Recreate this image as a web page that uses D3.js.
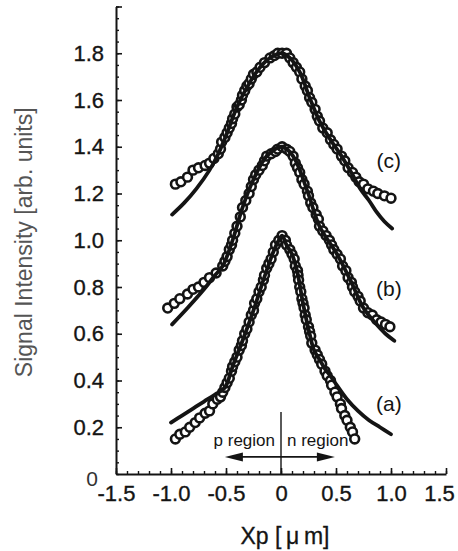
<!DOCTYPE html>
<html>
<head>
<meta charset="utf-8">
<script src="https://cdn.jsdelivr.net/npm/d3@7"></script>
<style>
  body { margin: 0; background: #fff; }
  svg { display: block; }
  text { font-family: "Liberation Sans", Arial, Helvetica, sans-serif; }
</style>
</head>
<body>
<svg id="chart"></svg>
<script>
// axis ticks
const xTicks = [-1.5, -1.0, -0.5, 0, 0.5, 1.0, 1.5];
const xTickLabels = ["-1.5", "-1.0", "-0.5", "0", "0.5", "1.0", "1.5"];
const yTicks = [0.2, 0.4, 0.6, 0.8, 1.0, 1.2, 1.4, 1.6, 1.8, 2.0];
const yTickLabels = ["0.2", "0.4", "0.6", "0.8", "1.0", "1.2", "1.4", "1.6", "1.8", ""];

// curve labels [name, x, y]
const curveLabels = [["(a)", 0.98, 0.27], ["(b)", 0.98, 0.76], ["(c)", 0.98, 1.31]];

// measured profiles (open circles), [Xp, intensity]
const measuredA = [
  [-0.96, 0.15], [-0.92, 0.17], [-0.87, 0.18], [-0.83, 0.20], [-0.78, 0.22], [-0.74, 0.24],
  [-0.69, 0.26], [-0.65, 0.27], [-0.62, 0.30], [-0.58, 0.32], [-0.55, 0.33], [-0.53, 0.35],
  [-0.51, 0.37], [-0.49, 0.39], [-0.47, 0.41], [-0.45, 0.44], [-0.44, 0.46], [-0.42, 0.48],
  [-0.40, 0.50], [-0.38, 0.53], [-0.36, 0.55], [-0.35, 0.57], [-0.33, 0.60], [-0.31, 0.62],
  [-0.29, 0.65], [-0.27, 0.68], [-0.25, 0.70], [-0.24, 0.73], [-0.22, 0.75], [-0.20, 0.78],
  [-0.18, 0.80], [-0.16, 0.83], [-0.15, 0.85], [-0.13, 0.88], [-0.11, 0.90], [-0.09, 0.92],
  [-0.07, 0.95], [-0.05, 0.98], [-0.02, 1.00], [0.01, 1.02], [0.04, 1.00], [0.05, 0.98],
  [0.08, 0.96], [0.10, 0.94], [0.12, 0.92], [0.13, 0.89], [0.15, 0.87], [0.155, 0.85],
  [0.16, 0.83], [0.17, 0.80], [0.18, 0.78], [0.19, 0.75], [0.20, 0.73], [0.21, 0.71],
  [0.22, 0.68], [0.23, 0.66], [0.25, 0.63], [0.26, 0.61], [0.27, 0.59], [0.28, 0.56],
  [0.31, 0.53], [0.33, 0.51], [0.35, 0.49], [0.37, 0.47], [0.40, 0.44], [0.42, 0.42],
  [0.45, 0.40], [0.46, 0.38], [0.49, 0.35], [0.51, 0.33], [0.54, 0.30], [0.55, 0.28],
  [0.58, 0.25], [0.60, 0.23], [0.63, 0.20], [0.65, 0.18], [0.67, 0.15]
];
const measuredB = [
  [-1.03, 0.71], [-0.97, 0.73], [-0.92, 0.75], [-0.85, 0.77], [-0.80, 0.79], [-0.75, 0.80],
  [-0.70, 0.82], [-0.65, 0.84], [-0.59, 0.86], [-0.53, 0.89], [-0.51, 0.91], [-0.49, 0.93],
  [-0.47, 0.96], [-0.45, 0.98], [-0.44, 1.00], [-0.42, 1.03], [-0.40, 1.06], [-0.37, 1.10],
  [-0.35, 1.14], [-0.32, 1.17], [-0.29, 1.20], [-0.27, 1.23], [-0.25, 1.26], [-0.23, 1.28],
  [-0.20, 1.30], [-0.17, 1.32], [-0.15, 1.34], [-0.13, 1.36], [-0.09, 1.37], [-0.05, 1.38],
  [-0.03, 1.39], [0.01, 1.40], [0.05, 1.39], [0.08, 1.38], [0.11, 1.36], [0.13, 1.33],
  [0.15, 1.31], [0.17, 1.29], [0.19, 1.26], [0.21, 1.24], [0.24, 1.21], [0.25, 1.19],
  [0.27, 1.16], [0.29, 1.14], [0.32, 1.11], [0.34, 1.09], [0.35, 1.06], [0.38, 1.04],
  [0.41, 1.02], [0.44, 1.00], [0.46, 0.98], [0.48, 0.96], [0.51, 0.94], [0.54, 0.92],
  [0.56, 0.89], [0.59, 0.87], [0.61, 0.84], [0.64, 0.82], [0.65, 0.80], [0.67, 0.78],
  [0.70, 0.76], [0.72, 0.74], [0.75, 0.71], [0.79, 0.69], [0.83, 0.68], [0.87, 0.66],
  [0.91, 0.65], [0.95, 0.64], [0.99, 0.63]
];
const measuredC = [
  [-0.96, 1.24], [-0.91, 1.25], [-0.85, 1.27], [-0.80, 1.30], [-0.75, 1.31], [-0.69, 1.32],
  [-0.65, 1.33], [-0.61, 1.35], [-0.57, 1.37], [-0.55, 1.39], [-0.54, 1.42], [-0.51, 1.44],
  [-0.49, 1.46], [-0.47, 1.48], [-0.45, 1.50], [-0.44, 1.52], [-0.42, 1.54], [-0.40, 1.57],
  [-0.38, 1.58], [-0.36, 1.60], [-0.35, 1.62], [-0.33, 1.64], [-0.31, 1.66], [-0.29, 1.67],
  [-0.27, 1.69], [-0.25, 1.71], [-0.22, 1.72], [-0.19, 1.74], [-0.15, 1.76], [-0.10, 1.78],
  [-0.06, 1.79], [-0.03, 1.80], [0.01, 1.80], [0.05, 1.80], [0.08, 1.78], [0.11, 1.76],
  [0.14, 1.74], [0.17, 1.72], [0.19, 1.69], [0.22, 1.66], [0.24, 1.64], [0.26, 1.61],
  [0.28, 1.59], [0.31, 1.56], [0.33, 1.53], [0.35, 1.51], [0.38, 1.48], [0.42, 1.46],
  [0.45, 1.43], [0.48, 1.41], [0.51, 1.39], [0.55, 1.36], [0.58, 1.34], [0.61, 1.31],
  [0.65, 1.29], [0.68, 1.27], [0.71, 1.25], [0.75, 1.24], [0.79, 1.22], [0.84, 1.21],
  [0.88, 1.20], [0.94, 1.19], [1.00, 1.18]
];

// calculated profiles (solid lines)
const fitA = [
  [-1.00, 0.22], [-0.90, 0.25], [-0.80, 0.28], [-0.70, 0.31], [-0.60, 0.34], [-0.51, 0.37],
  [-0.44, 0.46], [-0.35, 0.57], [-0.25, 0.70], [-0.16, 0.83], [-0.07, 0.95], [-0.02, 1.00],
  [0.01, 1.02], [0.05, 0.98], [0.10, 0.94], [0.15, 0.86], [0.20, 0.73], [0.26, 0.60],
  [0.30, 0.53], [0.35, 0.49], [0.40, 0.45], [0.45, 0.42], [0.50, 0.385], [0.60, 0.32],
  [0.70, 0.27], [0.80, 0.23], [0.90, 0.20], [1.00, 0.17]
];
const fitB = [
  [-0.99, 0.64], [-0.85, 0.71], [-0.70, 0.79], [-0.60, 0.85], [-0.53, 0.89], [-0.44, 1.00],
  [-0.35, 1.14], [-0.25, 1.26], [-0.13, 1.36], [0.01, 1.40], [0.11, 1.36], [0.24, 1.21],
  [0.35, 1.06], [0.51, 0.94], [0.64, 0.82], [0.75, 0.71], [0.85, 0.65], [0.95, 0.60],
  [1.03, 0.57]
];
const fitC = [
  [-0.99, 1.11], [-0.88, 1.16], [-0.77, 1.22], [-0.65, 1.30], [-0.57, 1.37], [-0.49, 1.46],
  [-0.40, 1.57], [-0.29, 1.67], [-0.19, 1.74], [-0.10, 1.78], [0.01, 1.80], [0.08, 1.78],
  [0.17, 1.72], [0.26, 1.61], [0.35, 1.51], [0.45, 1.43], [0.55, 1.36], [0.65, 1.28],
  [0.72, 1.22], [0.80, 1.17], [0.87, 1.12], [0.94, 1.08], [1.01, 1.05]
];

const series = [
  { name: "(a)", measured: measuredA, fit: fitA },
  { name: "(b)", measured: measuredB, fit: fitB },
  { name: "(c)", measured: measuredC, fit: fitC }
];

const width = 458;
const height = 551;
const ink = "#141414";

const svg = d3.select("#chart")
    .attr("width", width)
    .attr("height", height);

svg.append("rect")
    .attr("width", width)
    .attr("height", height)
    .attr("fill", "#fff");

const x = d3.scaleLinear().domain([-1.5, 1.5]).range([116, 446]);
const y = d3.scaleLinear().domain([0, 2.0]).range([474, 6.5]);

// minor ticks first (no labels)
svg.append("g")
    .attr("transform", `translate(${x(-1.5)},0)`)
    .call(d3.axisLeft(y).tickValues(d3.range(0, 2.001, 0.05)).tickSize(-3).tickFormat("").tickSizeOuter(0))
    .call(g => g.select(".domain").remove())
    .call(g => g.selectAll("line").attr("stroke", ink).attr("stroke-width", 1.4));

svg.append("g")
    .attr("transform", `translate(0,${y(0)})`)
    .call(d3.axisBottom(x).tickValues(d3.range(-1.5, 1.501, 0.1)).tickSize(-3).tickFormat("").tickSizeOuter(0))
    .call(g => g.select(".domain").remove())
    .call(g => g.selectAll("line").attr("stroke", ink).attr("stroke-width", 1.4));

// major axes
const yAxis = svg.append("g")
    .attr("transform", `translate(${x(-1.5)},0)`)
    .call(d3.axisLeft(y)
        .tickValues(yTicks)
        .tickSize(-6)
        .tickSizeOuter(0)
        .tickPadding(12)
        .tickFormat((d, i) => yTickLabels[i]));

const xAxis = svg.append("g")
    .attr("transform", `translate(0,${y(0)})`)
    .call(d3.axisBottom(x)
        .tickValues(xTicks)
        .tickSize(-6)
        .tickSizeOuter(0)
        .tickPadding(11)
        .tickFormat((d, i) => xTickLabels[i]));

[yAxis, xAxis].forEach(g => {
    g.select(".domain").attr("stroke", ink).attr("stroke-width", 2);
    g.selectAll(".tick line").attr("stroke", ink).attr("stroke-width", 1.6);
    g.selectAll(".tick text")
        .attr("fill", ink)
        .attr("stroke", ink)
        .attr("stroke-width", 0.35)
        .style("font-size", "22px")
        .style("font-family", "'Liberation Sans', Arial, sans-serif");
});

// keep "1.5" inside the frame, as in the original
xAxis.selectAll(".tick text").filter(d => d === 1.5).attr("dx", -7);

// the lone "0" below the y axis
svg.append("text")
    .attr("x", x(-1.5) - 18)
    .attr("y", y(0) + 12)
    .attr("text-anchor", "end")
    .style("font-size", "21px")
    .attr("fill", "#333")
    .text("0");

// axis titles
svg.append("text")
    .attr("transform", `translate(32,${(y(0) + y(2.0)) / 2 + 2}) rotate(-90)`)
    .attr("text-anchor", "middle")
    .style("font-size", "23px")
    .attr("fill", "#555")
    .text("Signal Intensity [arb. units]");

svg.append("text")
    .attr("x", x(0) + 4)
    .attr("y", 544)
    .attr("text-anchor", "middle")
    .style("font-size", "23px")
    .attr("fill", ink)
    .attr("stroke", ink)
    .attr("stroke-width", 0.3)
    .text("Xp [\u2009\u03bc\u2009m]");

// p / n region marker
const markers = svg.append("g");

markers.append("line")
    .attr("x1", x(0)).attr("x2", x(0))
    .attr("y1", y(0.265)).attr("y2", y(0))
    .attr("stroke", ink).attr("stroke-width", 1.4);

const arrowY = y(0.073);
markers.append("line")
    .attr("x1", x(-0.42)).attr("x2", x(0.40))
    .attr("y1", arrowY).attr("y2", arrowY)
    .attr("stroke", ink).attr("stroke-width", 1.8);

[[-0.51, 1], [0.49, -1]].forEach(([tip, dir]) => {
    const tx = x(tip);
    markers.append("path")
        .attr("d", `M${tx},${arrowY} L${tx + dir * 18},${arrowY - 4.5} L${tx + dir * 18},${arrowY + 4.5} Z`)
        .attr("fill", ink);
});

markers.append("text")
    .attr("x", x(0) - 6)
    .attr("y", y(0.12))
    .attr("text-anchor", "end")
    .style("font-size", "17px")
    .attr("fill", ink)
    .text("p region");

markers.append("text")
    .attr("x", x(0) + 6)
    .attr("y", y(0.12))
    .attr("text-anchor", "start")
    .style("font-size", "17px")
    .attr("fill", ink)
    .text("n region");

// curve labels
svg.selectAll(".curve-label")
    .data(curveLabels)
    .join("text")
    .attr("class", "curve-label")
    .attr("x", d => x(d[1]))
    .attr("y", d => y(d[2]))
    .attr("text-anchor", "middle")
    .style("font-size", "21px")
    .attr("fill", ink)
    .text(d => d[0]);

// profiles
const line = d3.line()
    .x(d => x(d[0]))
    .y(d => y(d[1]))
    .curve(d3.curveCatmullRom.alpha(0.5));

series.forEach(s => {
    const g = svg.append("g");

    g.selectAll("circle")
        .data(s.measured)
        .join("circle")
        .attr("cx", d => x(d[0]))
        .attr("cy", d => y(d[1]))
        .attr("r", 4.4)
        .attr("fill", "#fff")
        .attr("stroke", ink)
        .attr("stroke-width", 2.6);

    g.append("path")
        .datum(s.fit)
        .attr("d", line)
        .attr("fill", "none")
        .attr("stroke", ink)
        .attr("stroke-width", 3.8)
        .attr("stroke-linecap", "round");
});
</script>
</body>
</html>
